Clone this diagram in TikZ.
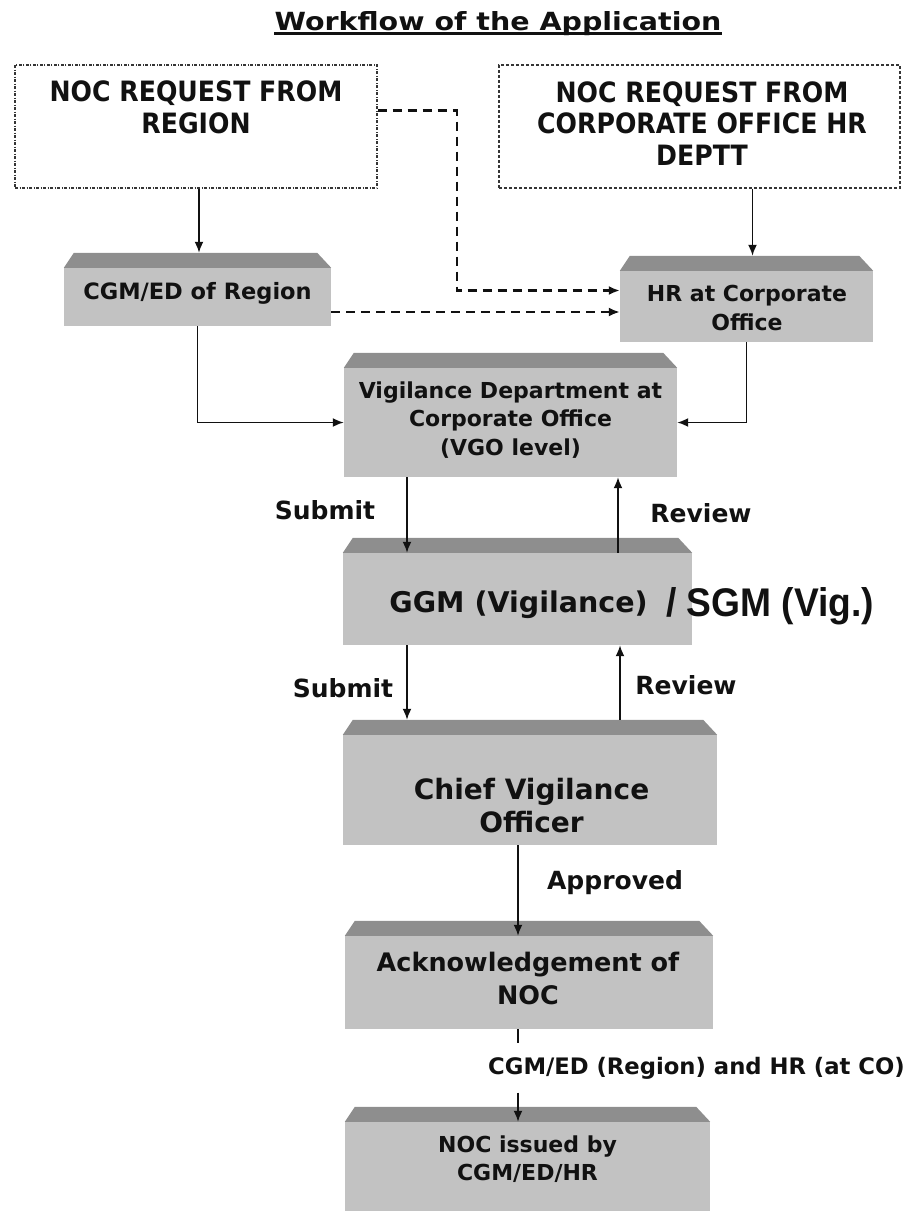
\documentclass[tikz,border=0pt]{standalone}
\usepackage{fontspec}
\usepackage{graphicx}
\setmainfont{DejaVu Sans}
\newfontfamily\arialfont{Liberation Sans}
\usetikzlibrary{arrows.meta,calc}
\definecolor{facec}{RGB}{194,194,194}
\definecolor{topc}{RGB}{142,142,142}
\definecolor{ink}{RGB}{17,17,17}
\newcommand\bevelbox[1]{\fill[topc] (#1.north west) -- ([shift={(10pt,15pt)}]#1.north west) -- ([shift={(-14pt,15pt)}]#1.north east) -- (#1.north east) -- cycle;}
\newcommand\fsz[2]{\bfseries\fontsize{#1}{#2}\selectfont}
\tikzset{
  box/.style={fill=facec, draw=none, inner sep=0pt},
  reqbox/.style={draw=ink!85, line width=1.1pt, dash pattern=on 3pt off 1.5pt on 1pt off 1.5pt, inner sep=0pt},
  reqboxb/.style={draw=ink!85, line width=1.1pt, dash pattern=on 3pt off 2pt, inner sep=0pt},
  btext/.style={align=center, text=ink, inner sep=0pt},
  lab/.style={text=ink, inner sep=0pt, font=\fsz{25}{28}},
  arr/.style={draw=ink, line width=1.8pt, -{Latex[length=11pt,width=9pt]}},
  plain/.style={draw=ink, line width=1.8pt},
  darr/.style={draw=ink, line width=2.1pt, dash pattern=on 9pt off 6pt, -{Latex[length=11pt,width=9pt]}},
}
\begin{document}
\begin{tikzpicture}[x=1pt,y=-1pt]
\useasboundingbox (0,0) rectangle (910,1211);
% title
\node[btext, anchor=base, font=\fsz{25}{30}] (title) at (498,30) {\scalebox{1.14}[1]{Workflow of the Application}};
\draw[ink, line width=2.2pt] ([yshift=-3.5pt]title.base west) -- ([yshift=-3.5pt]title.base east);
% request boxes
\node[reqbox, minimum width=362pt, minimum height=123pt] (req1) at (196,126.5) {};
\node[btext, font=\fsz{28}{31.5}] (req1T) at (196,107.5) {\scalebox{0.9}[1]{NOC REQUEST FROM}\\\scalebox{0.9}[1]{REGION}};
\node[reqboxb, minimum width=401pt, minimum height=123pt] (req2) at (699.5,126.5) {};
\node[btext, font=\fsz{28}{31.5}] (req2T) at (702,123.5) {\scalebox{0.9}[1]{NOC REQUEST FROM}\\\scalebox{0.9}[1]{CORPORATE OFFICE HR}\\\scalebox{0.9}[1]{DEPTT}};
% gray boxes
\node[box, minimum width=267pt, minimum height=58pt] (cgm) at (197.5,297) {};
\node[box, minimum width=253pt, minimum height=71pt] (hr) at (746.5,306.5) {};
\node[box, minimum width=333pt, minimum height=109pt] (vig) at (510.5,422.5) {};
\node[box, minimum width=349pt, minimum height=92pt] (ggm) at (517.5,599) {};
\node[box, minimum width=374pt, minimum height=110pt] (chief) at (530,790) {};
\node[box, minimum width=368pt, minimum height=93pt] (ack) at (529,982.5) {};
\node[box, minimum width=365pt, minimum height=100pt] (noc) at (527.5,1172) {};
\bevelbox{cgm}\bevelbox{hr}\bevelbox{vig}\bevelbox{ggm}\bevelbox{chief}\bevelbox{ack}\bevelbox{noc}
% box texts
\node[btext, font=\fsz{22.5}{29}] (cgmT) at (197.5,293) {CGM/ED of Region};
\node[btext, font=\fsz{22}{29}] (hrT) at (747,307.5) {HR at Corporate\\Office};
\node[btext, font=\fsz{22}{28.5}] (vigT) at (510.5,420) {Vigilance Department at\\Corporate Office\\(VGO level)};
\node[btext, font=\fsz{28.5}{32}] (ggmT) at (518.5,605) {GGM (Vigilance)};
\node[btext, anchor=west, font={\arialfont\fsz{40}{46}}] (sgmT) at (666,606) {\scalebox{0.93}[1]{/ SGM (Vig.)}};
\node[btext, font=\fsz{28}{33}] (chiefT) at (531.5,806) {Chief Vigilance\\Officer};
\node[btext, font=\fsz{25.5}{33}] (ackT) at (528,978.5) {Acknowledgement of\\NOC};
\node[btext, font=\fsz{22}{28}] (nocT) at (527.5,1159) {NOC issued by\\CGM/ED/HR};
% edge labels
\node[lab] (sub1) at (325,510) {Submit};
\node[lab] (rev1) at (701,513) {Review};
\node[lab] (sub2) at (343,688) {Submit};
\node[lab] (rev2) at (686,685) {Review};
\node[lab] (appr) at (615,883) {Approved};
\node[btext, anchor=west, minimum height=49pt, font=\fsz{22.7}{26}] (lbl) at (488,1068) {CGM/ED (Region) and HR (at CO)};
% connectors
\coordinate (cgm-top) at ([shift={(1.5pt,15pt)}]cgm.north);
\draw[arr] (cgm-top |- req1.south) -- (cgm-top);
\coordinate (hr-top) at ([shift={(6pt,15pt)}]hr.north);
\draw[arr] (hr-top |- req2.south) -- (hr-top);
\draw[darr] ([yshift=16pt]req1.east) -- ++(79,0) |- ([yshift=16pt]hr.west);
\coordinate (cgm-e) at ([yshift=-15pt]cgm.east);
\draw[darr] (cgm-e) -- (cgm-e -| hr.west);
\draw[arr] (cgm.south) |- (vig.west);
\draw[arr] (hr.south) |- (vig.east);
\coordinate (s1) at ([xshift=-103.5pt]vig.south);
\draw[arr] (s1) -- (s1 |- ggm.north);
\coordinate (r1) at ([xshift=100.5pt]ggm.north);
\draw[arr] (r1) -- (r1 |- vig.south);
\coordinate (chief-top) at ([yshift=15pt]chief.north);
\coordinate (s2) at ([xshift=-110.5pt]ggm.south);
\draw[arr] (s2) -- (s2 |- chief-top);
\coordinate (r2) at ([xshift=90pt]chief-top);
\draw[arr] (r2) -- (r2 |- ggm.south);
\coordinate (ap) at ([xshift=-12pt]chief.south);
\draw[arr] (ap) -- (ap |- ack.north);
\coordinate (ak) at ([xshift=-11pt]ack.south);
\draw[plain] (ak) -- (ak |- lbl.north);
\draw[arr] (ak |- lbl.south) -- (ak |- noc.north);
\end{tikzpicture}
\end{document}
